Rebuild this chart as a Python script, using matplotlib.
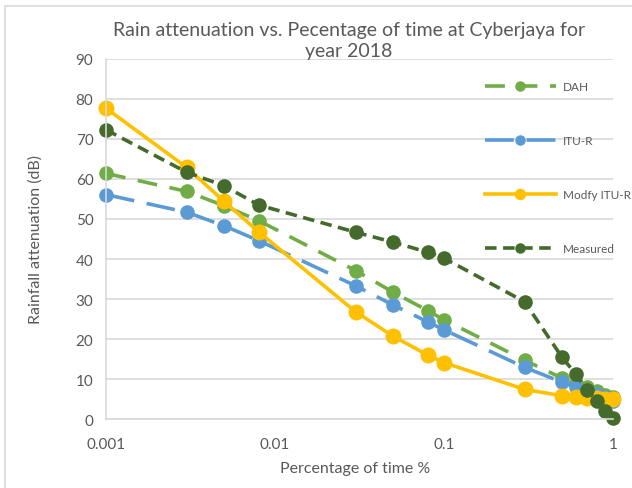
import matplotlib
matplotlib.use("Agg")
import matplotlib.pyplot as plt
from matplotlib.patches import Rectangle

plt.rcParams['font.family'] = ['Lato', 'DejaVu Sans']

# ---- data ----
time_pct = [0.001, 0.003, 0.005, 0.008, 0.03, 0.05, 0.08, 0.1, 0.3, 0.5, 0.6, 0.7, 0.8, 0.9, 1.0]
dah = [61.4, 56.9, 53.3, 49.6, 37.1, 31.7, 27.1, 24.8, 14.7, 10.2, 9.0, 8.0, 7.0, 6.0, 5.5]
itu_r = [56.1, 51.7, 48.3, 44.6, 33.3, 28.5, 24.3, 22.3, 12.9, 9.2, 8.0, 7.0, 6.3, 5.5, 4.5]
modfy_itu_r = [77.7, 62.9, 54.4, 46.8, 26.8, 20.7, 16.0, 14.1, 7.4, 5.8, 5.4, 5.3, 5.2, 5.1, 4.9]
measured = [72.3, 61.7, 58.3, 53.5, 46.7, 44.2, 41.7, 40.2, 29.3, 15.4, 11.3, 7.2, 4.6, 2.1, 0.3]

series_names = ["DAH", "ITU-R", "Modfy ITU-R", "Measured"]
x_ticks = [0.001, 0.01, 0.1, 1]
x_tick_labels = ["0.001", "0.01", "0.1", "1"]
y_ticks = list(range(0, 100, 10))

title = "Rain attenuation vs. Pecentage of time at Cyberjaya for\nyear 2018"
xlabel = "Percentage of time %"
ylabel = "Rainfall attenuation (dB)"

# ---- styles ----
W, H = 632, 489
fig = plt.figure(figsize=(W / 100, H / 100), dpi=100)
ax = fig.add_axes([106 / W, 1 - 420 / H, (613 - 106) / W, (420 - 60) / H])

text_col = "#595959"
grid_col = "#d9d9d9"

styles = [
    dict(color="#70AD47", dashes=(5.5, 3.5), lw=2.6, ms=10.5),
    dict(color="#5B9BD5", dashes=(8, 3.5), lw=2.6, ms=10.5),
    dict(color="#FFC000", dashes=None, lw=2.6, ms=11.5),
    dict(color="#446A2C", dashes=(3.2, 1.8), lw=2.6, ms=10.5),
]
data = [dah, itu_r, modfy_itu_r, measured]

for name, ys, st in zip(series_names, data, styles):
    kw = dict(color=st["color"], lw=st["lw"], marker="o", markersize=st["ms"],
              markeredgewidth=0, label=name, clip_on=False)
    line, = ax.plot(time_pct, ys, **kw)
    if st["dashes"] is not None:
        line.set_dashes(st["dashes"])

ax.set_xscale("log")
ax.set_xlim(0.001, 1)
ax.set_ylim(0, 90)
ax.set_xticks(x_ticks)
ax.set_xticklabels(x_tick_labels)
ax.xaxis.set_minor_locator(matplotlib.ticker.NullLocator())
ax.set_yticks(y_ticks)
ax.tick_params(axis="both", length=0, colors=text_col, labelsize=11)
ax.tick_params(axis="y", pad=9)
ax.tick_params(axis="x", pad=13)
ax.grid(axis="y", color=grid_col, lw=1.2)
ax.set_axisbelow(True)
for s in ["top", "right"]:
    ax.spines[s].set_visible(False)
for s in ["left", "bottom"]:
    ax.spines[s].set_color(grid_col)
    ax.spines[s].set_linewidth(1.2)

fig.text(349 / W, 1 - 41 / H, title, ha="center", va="center", fontsize=14,
         color=text_col, linespacing=1.32)
fig.text(355 / W, 1 - 469 / H, xlabel, ha="center", va="center", fontsize=11.5, color=text_col)
fig.text(36 / W, 1 - 240 / H, ylabel, ha="center", va="center", rotation=90,
         fontsize=11.5, color=text_col)

leg = fig.legend(loc="upper left", bbox_to_anchor=(485 / W, 1 - 82 / H), frameon=False,
                 fontsize=8.5, handlelength=6.0, handletextpad=0.6, labelspacing=3.65,
                 borderpad=0, borderaxespad=0, numpoints=1, markerscale=0.72)
for t in leg.get_texts():
    t.set_color(text_col)

fig.patches.append(Rectangle((5 / W, -0.01), 1.0, 1 - 7 / H + 0.01, transform=fig.transFigure,
                             fill=False, edgecolor=grid_col, lw=1.2))

fig.savefig("out.png", dpi=100)
